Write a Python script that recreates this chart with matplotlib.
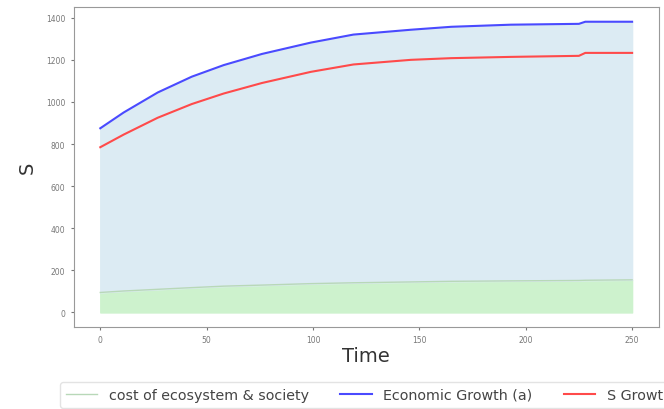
import numpy as np
import matplotlib.pyplot as plt

# values
time = [0, 11, 27, 43, 58, 76, 99, 119, 146, 165, 193, 225, 228, 250]
econ = [875, 950, 1045, 1120, 1175, 1228, 1282, 1320, 1343, 1357, 1367, 1371, 1381, 1381]
s_growth = [785, 845, 925, 990, 1040, 1090, 1143, 1178, 1200, 1208, 1214, 1219, 1233, 1233]
cost = [95, 102, 110, 118, 125, 130, 137, 141, 145, 148, 150, 152, 153, 155]

fig = plt.figure(figsize=(6.64, 4.10), dpi=100)
ax = fig.add_axes([0.111, 0.2, 0.881, 0.78])

ax.fill_between(time, 0, cost, color='#cdf2cd')
ax.fill_between(time, cost, econ, color='#dcebf3')
ax.plot(time, cost, color='#b8d8b8', lw=1, label='cost of ecosystem & society')
ax.plot(time, econ, color='#4a4aff', lw=1.5, label='Economic Growth (a)')
ax.plot(time, s_growth, color='#ff4a4a', lw=1.5, label='S Growth (b)')

ax.set_xticks([0, 50, 100, 150, 200, 250])
ax.set_yticks([0, 200, 400, 600, 800, 1000, 1200, 1400])
ax.tick_params(labelsize=5.5, colors='#777777', length=2.5)
for s in ax.spines.values():
    s.set_color('#999999')

ax.set_xlabel('Time', fontsize=14, color='#333333', labelpad=1)
ax.set_ylabel('S', fontsize=14, color='#333333', labelpad=7)

# legend runs past the right edge, as in the original
leg = fig.legend(loc='upper left', bbox_to_anchor=(0.08, 0.083), ncol=3,
                 fontsize=10.3, frameon=True, handlelength=2.2, columnspacing=2.2)
for t in leg.get_texts():
    t.set_color('#444444')
leg.get_frame().set_edgecolor('#dddddd')

fig.savefig('out.png', dpi=100)
